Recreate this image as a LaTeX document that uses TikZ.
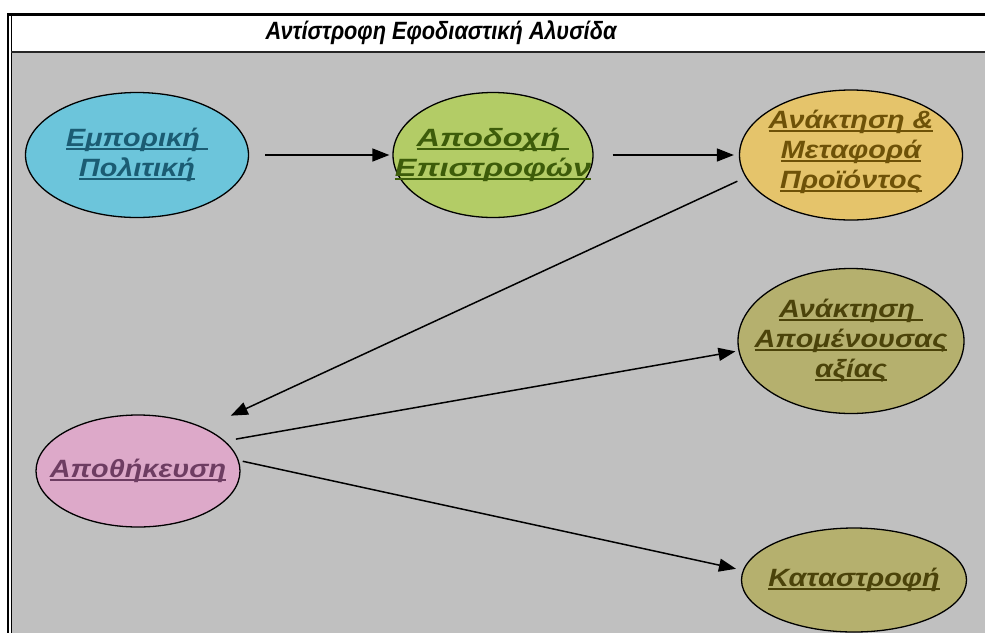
\documentclass[tikz,border=0pt]{standalone}
\usepackage{fontspec}
\setmainfont{Liberation Sans}
\newfontfamily\ovalfont[FakeStretch=1.15]{Liberation Sans}
\newfontfamily\wideovalfont[FakeStretch=1.3]{Liberation Sans}
\newfontfamily\headfont[FakeStretch=0.87]{Liberation Sans}
\usepackage{tikz}
\usetikzlibrary{shapes.geometric, arrows.meta}

\definecolor{panelgray}{RGB}{192,192,192}
\definecolor{polfill}{RGB}{108,197,219}
\definecolor{poltext}{RGB}{27,92,115}
\definecolor{accfill}{RGB}{179,204,102}
\definecolor{acctext}{RGB}{61,92,10}
\definecolor{recfill}{RGB}{229,196,107}
\definecolor{rectext}{RGB}{110,82,8}
\definecolor{olivefill}{RGB}{181,176,110}
\definecolor{olivetext}{RGB}{75,67,10}
\definecolor{stofill}{RGB}{221,169,201}
\definecolor{stotext}{RGB}{110,61,98}

\newcommand{\ulin}[1]{\leavevmode\setbox0=\hbox{#1}\rlap{\rule[-0.14em]{\wd0}{0.09em}}\box0}

\begin{document}
\begin{tikzpicture}[
    x=1pt, y=-1pt,
    oval/.style={ellipse, draw=black, line width=1.3pt, inner sep=0pt},
    ovaltext/.style={align=center, inner sep=0pt,
      font=\ovalfont\bfseries\itshape\fontsize{25}{30}\selectfont},
    link/.style={draw=black, line width=1.5pt, -{Triangle[length=17pt,width=13pt]}}
  ]
    \useasboundingbox (0,0) rectangle (985,633);
    \fill[white] (0,0) rectangle (985,633);
    \fill[panelgray] (11,52) rectangle (985,633);
    \draw[line width=3pt] (7,14.5) -- (985,14.5);
    \draw[line width=2.5pt] (8,13) -- (8,633);
    \draw[line width=1pt] (11,16) -- (11,633);
    \draw[line width=2pt, black!85] (11,52) -- (985,52);

    \node (title) at (441,33) {\headfont\bfseries\itshape\fontsize{25}{28}\selectfont Αντίστροφη Εφοδιαστική Αλυσίδα};

    \node[oval, fill=polfill, minimum width=223pt, minimum height=125pt,
          label={[ovaltext, text=poltext]center:{\ulin{Εμπορική\ }\\\ulin{Πολιτική}}}] (pol) at (137,155) {};
    \node[oval, fill=accfill, minimum width=200pt, minimum height=125pt,
          label={[ovaltext, text=acctext, font=\wideovalfont\bfseries\itshape\fontsize{25}{30}\selectfont]center:{\ulin{Αποδοχή\ }\\\ulin{Επιστροφών}}}] (acc) at (493,155) {};
    \node[oval, fill=recfill, minimum width=223pt, minimum height=130pt,
          label={[ovaltext, text=rectext, yshift=3pt]center:{\ulin{Ανάκτηση \&}\\\ulin{Μεταφορά}\\\ulin{Προϊόντος}}}] (rec) at (851,155) {};
    \node[oval, fill=olivefill, minimum width=226pt, minimum height=145pt,
          label={[ovaltext, text=olivetext]center:{\ulin{Ανάκτηση\ }\\\ulin{Απομένουσας}\\\ulin{αξίας}}}] (rem) at (851,341) {};
    \node[oval, fill=stofill, minimum width=204pt, minimum height=112pt,
          label={[ovaltext, text=stotext]center:{\ulin{Αποθήκευση}}}] (sto) at (138,471) {};
    \node[oval, fill=olivefill, minimum width=225pt, minimum height=104pt,
          label={[ovaltext, text=olivetext]center:{\ulin{Καταστροφή}}}] (des) at (854,580) {};

    \draw[link, shorten <=16pt, shorten >=3pt] (pol.east) -- (acc.west);
    \draw[link, shorten <=19pt, shorten >=5pt] (acc.east) -- (rec.west);
    \draw[link, shorten <=9pt, shorten >=29pt] (rec.192) -- (sto.33);
    \draw[link, shorten <=11pt, shorten >=3pt] (sto.19) -- (rem.185);
    \draw[link, shorten <=4pt, shorten >=7pt] (sto.6) -- (des.175);
\end{tikzpicture}
\end{document}
